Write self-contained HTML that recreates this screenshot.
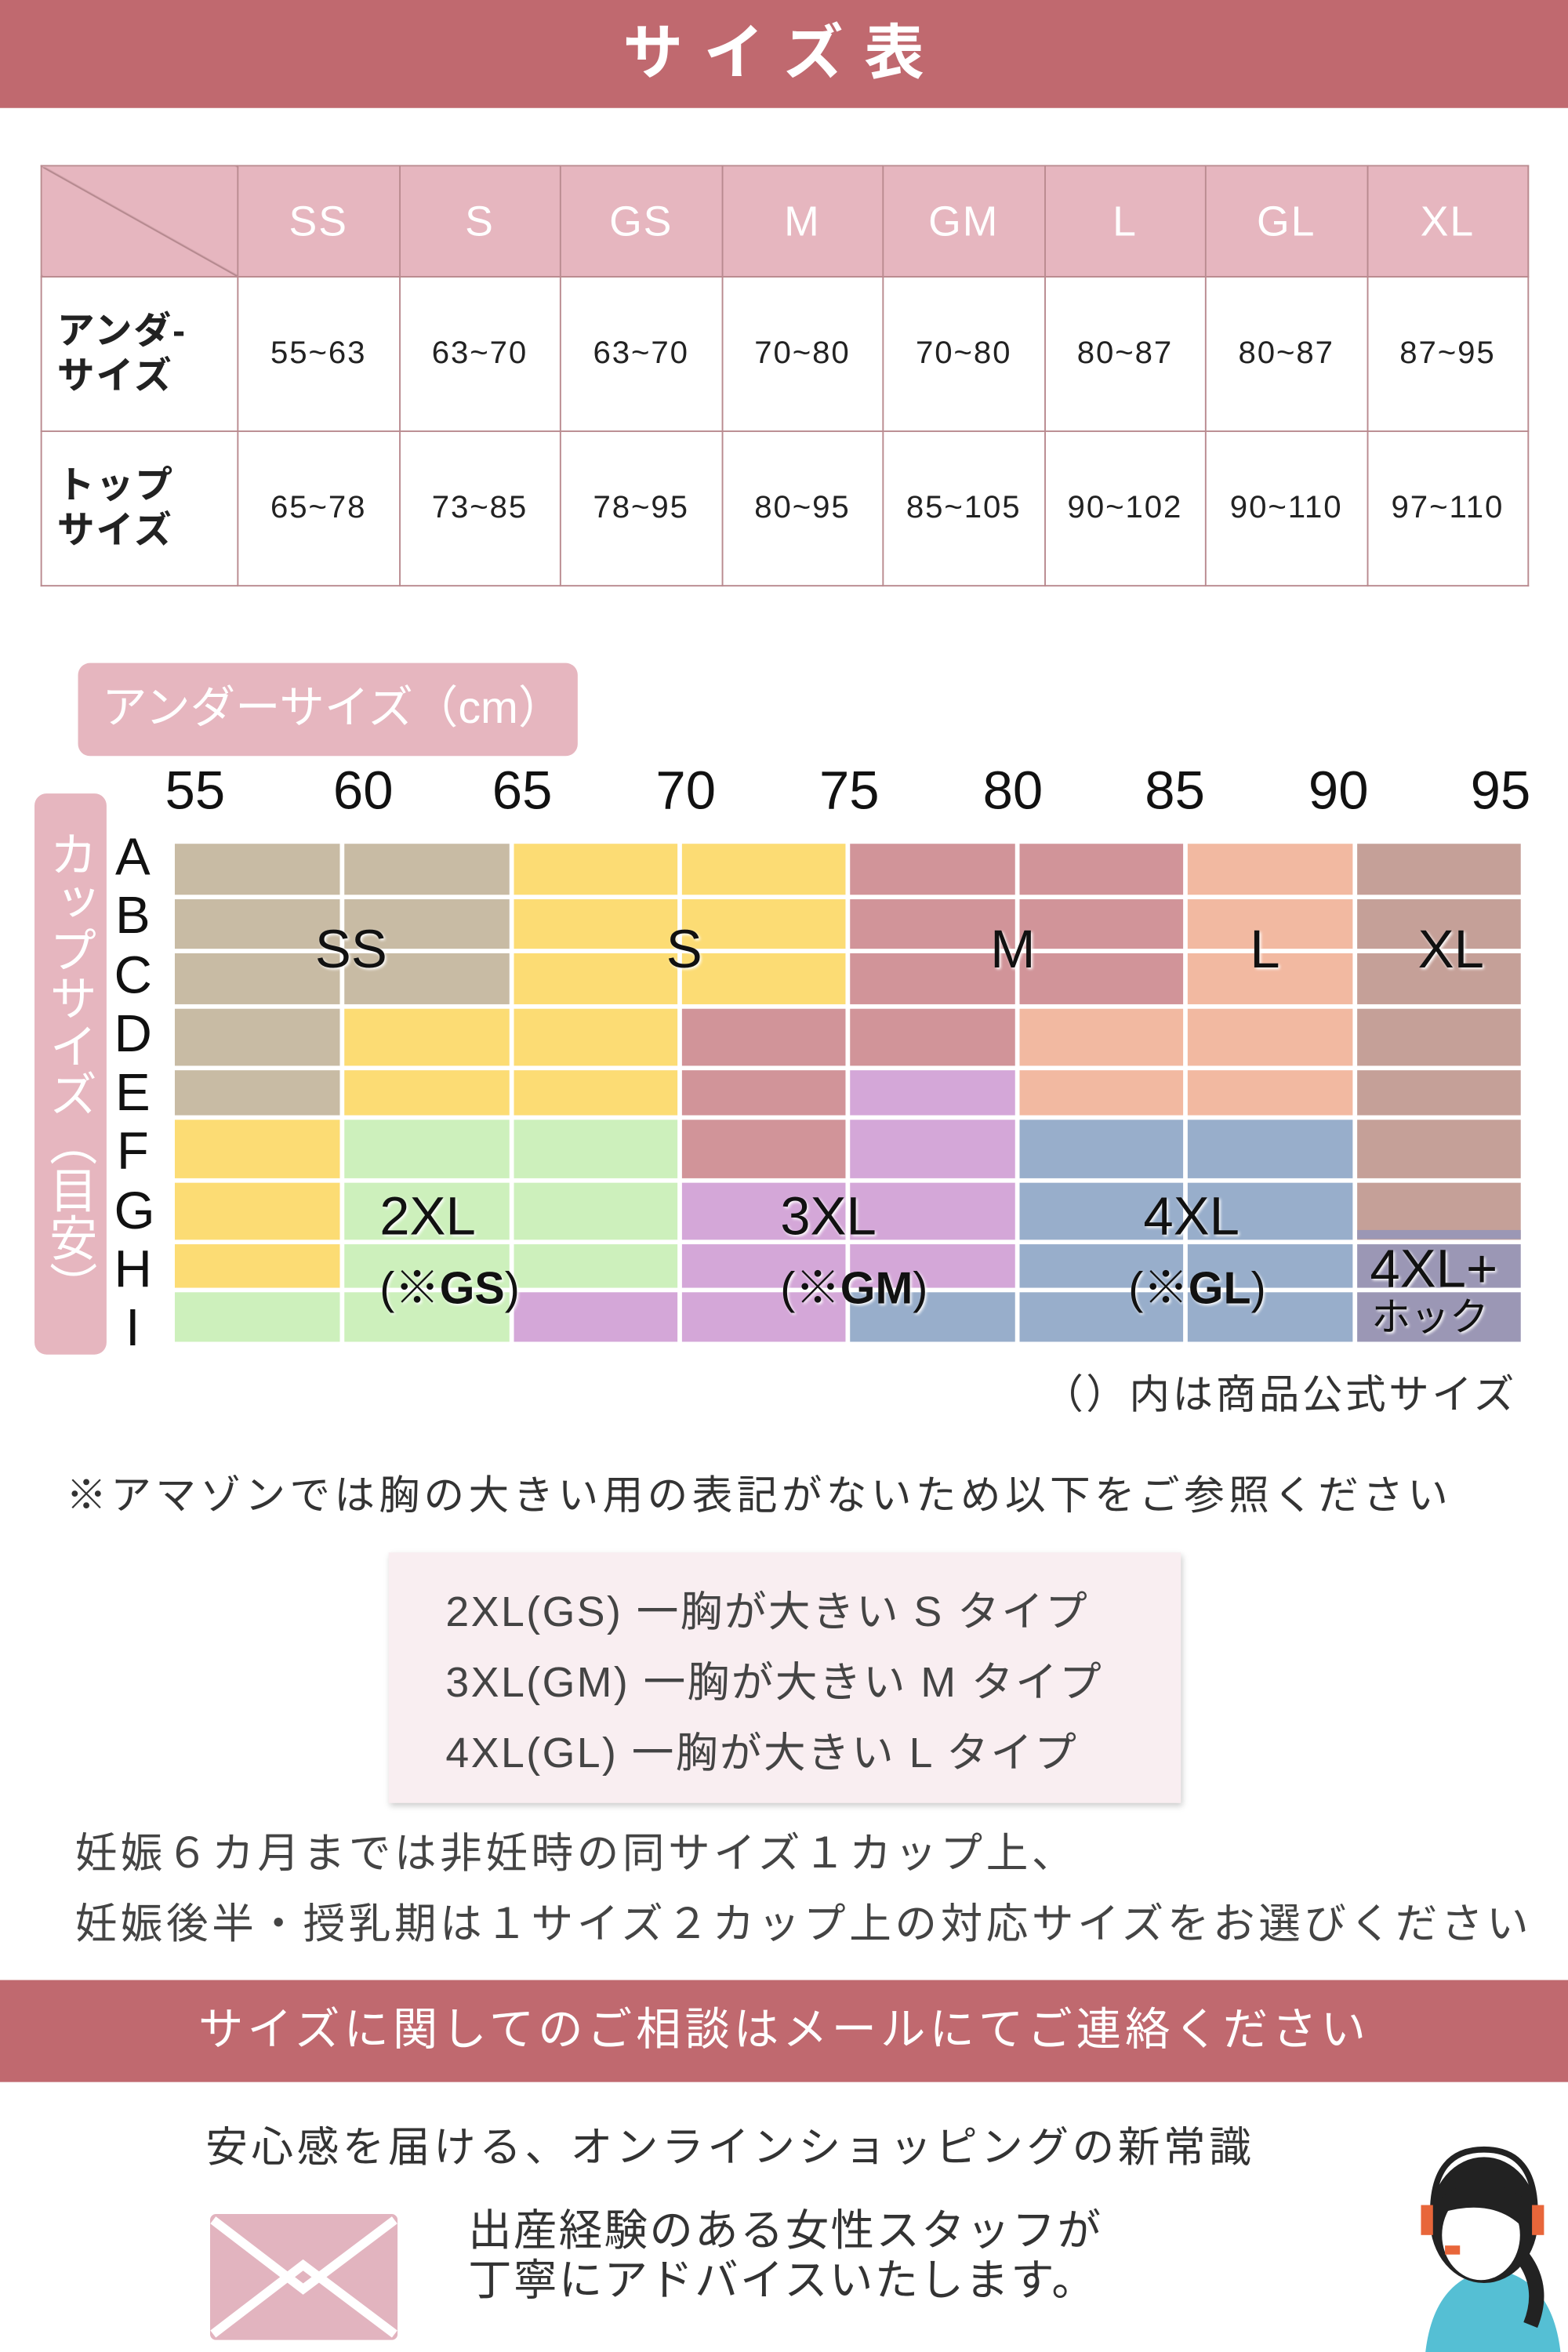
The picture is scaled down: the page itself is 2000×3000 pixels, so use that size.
<!DOCTYPE html>
<html><head><meta charset="utf-8"><style>
html,body{margin:0;padding:0;background:#fff;}
body{width:2000px;height:3000px;overflow:hidden;position:relative;}
#s{position:absolute;left:0;top:0;width:1045px;height:1568px;transform:scale(1.9139,1.9133);transform-origin:0 0;font-family:"Liberation Sans","Noto Sans CJK JP",sans-serif;color:#333;}
.a{position:absolute;}
.band{background:#c0696f;color:#fff;left:0;width:1045px;}
table{border-collapse:collapse;position:absolute;left:27px;top:110px;width:992px;table-layout:fixed;}
td{border:1.5px solid #b98a8f;text-align:center;font-size:21px;color:#222;letter-spacing:1px;}
tr.h td{background:#e6b6bf;color:#fff;font-size:28px;height:71px;}
tr.r td{height:100px;}
td.l{text-align:left;padding-left:10px;font-size:25px;line-height:30px;font-weight:bold;color:#222;}
.lab{position:absolute;font-size:36px;color:#111;text-shadow:1px 1px 2px #fff;}
</style></head><body><div id="s">
<div class="a band" style="top:0;height:72px;font-size:40px;font-weight:bold;text-align:center;line-height:72px;letter-spacing:14px;">サイズ表</div>
<table>
<colgroup><col style="width:131px"><col><col><col><col><col><col><col><col></colgroup>
<tr class="h"><td style="background:linear-gradient(to top right,#e6b6bf 49.5%,#a87d82 50%,#e6b6bf 51%);"></td><td>SS</td><td>S</td><td>GS</td><td>M</td><td>GM</td><td>L</td><td>GL</td><td>XL</td></tr>
<tr class="r"><td class="l">アンダ-<br>サイズ</td><td>55~63</td><td>63~70</td><td>63~70</td><td>70~80</td><td>70~80</td><td>80~87</td><td>80~87</td><td>87~95</td></tr>
<tr class="r"><td class="l">トップ<br>サイズ</td><td>65~78</td><td>73~85</td><td>78~95</td><td>80~95</td><td>85~105</td><td>90~102</td><td>90~110</td><td>97~110</td></tr>
</table>
<div class="a" style="left:52px;top:442px;width:333px;height:62px;background:#e6b6bf;border-radius:8px;color:#fff;font-size:30px;line-height:62px;padding-left:16px;box-sizing:border-box;">アンダーサイズ（cm）</div>
<div class="a" style="left:23px;top:529px;width:48px;height:374px;background:#e6b6bf;border-radius:8px;color:#fff;font-size:32px;writing-mode:vertical-rl;line-height:48px;padding-top:24px;box-sizing:border-box;">カップサイズ（目安）</div>
<div class="a" style="top:506px;left:0;width:1045px;height:45px;font-size:36px;color:#111;">
<span class="a" style="left:110px">55</span><span class="a" style="left:222px">60</span><span class="a" style="left:328px">65</span><span class="a" style="left:437px">70</span><span class="a" style="left:546px">75</span><span class="a" style="left:655px">80</span><span class="a" style="left:763px">85</span><span class="a" style="left:872px">90</span><span class="a" style="left:980px">95</span></div>
<div class="a" style="left:76px;top:552px;font-size:35px;line-height:39.3px;color:#111;width:25px;text-align:center;">A<br>B<br>C<br>D<br>E<br>F<br>G<br>H<br>I</div>
<svg class="a" style="left:0;top:0" width="1045" height="1568">
<g id="g"></g>
</svg>
<div id="labs"></div>
<div class="a" style="left:695px;top:908px;font-size:27px;letter-spacing:1.8px;">（）内は商品公式サイズ</div>
<div class="a" style="left:44px;top:975px;font-size:27px;letter-spacing:2.8px;">※アマゾンでは胸の大きい用の表記がないため以下をご参照ください</div>
<div class="a" style="left:259px;top:1035px;width:528px;height:167px;background:#f9eef1;box-shadow:1px 2px 4px #ccc;font-size:28px;line-height:47px;padding:16px 0 0 38px;box-sizing:border-box;color:#444;letter-spacing:1.3px;">2XL(GS) 一胸が大きい S タイプ<br>3XL(GM) 一胸が大きい M タイプ<br>4XL(GL) 一胸が大きい L タイプ</div>
<div class="a" style="left:50px;top:1212px;font-size:28px;line-height:47px;color:#444;letter-spacing:2.4px;">妊娠６カ月までは非妊時の同サイズ１カップ上、<br>妊娠後半・授乳期は１サイズ２カップ上の対応サイズをお選びください</div>
<div class="a band" style="top:1320px;height:68px;font-size:30px;text-align:center;line-height:68px;letter-spacing:2.6px;">サイズに関してのご相談はメールにてご連絡ください</div>
<div class="a" style="left:137px;top:1410px;font-size:28px;color:#333;letter-spacing:2.4px;">安心感を届ける、オンラインショッピングの新常識</div>
<div class="a" style="left:312px;top:1472px;font-size:29px;line-height:33px;color:#333;letter-spacing:1.2px;">出産経験のある女性スタッフが<br>丁寧にアドバイスいたします。</div>
<svg class="a" style="left:140px;top:1476px" width="125" height="84"><rect width="125" height="84" rx="4" fill="#e2b4bf"/><polyline points="2,4 62,50 123,4" fill="none" stroke="#fff" stroke-width="6"/><polyline points="2,80 62,34 123,80" fill="none" stroke="#fff" stroke-width="6"/></svg>
<svg class="a" style="left:925px;top:1425px" width="120" height="143"><path d="M25,143 Q30,100 60,90 L80,90 Q110,100 115,143Z" fill="#55bfd4"/><ellipse cx="64" cy="55" rx="36" ry="42" fill="#222"/><ellipse cx="62" cy="65" rx="26" ry="30" fill="#fff"/><path d="M36,40 Q60,20 90,40 L90,60 Q70,40 36,50Z" fill="#222"/><path d="M30,50 Q30,8 64,8 Q98,8 98,50" fill="none" stroke="#222" stroke-width="4"/><rect x="22" y="45" width="8" height="20" fill="#e8663a"/><rect x="96" y="45" width="8" height="20" fill="#e8663a"/><rect x="38" y="72" width="10" height="6" fill="#e8663a"/><path d="M90,80 Q105,100 95,125" stroke="#222" stroke-width="10" fill="none"/></svg>
</div>
<script>
var C={a:'#c8bba4',y:'#fcdc74',m:'#d19499',l:'#f2b9a1',x:'#c5a098',g:'#cdf0bc',p:'#d4a7d8',b:'#98aecb',q:'#9b97b5'};
var rows=["aayymmlx","aayymmlx","aayymmlx","ayymmllx","ayympllx","yggmpbbx","yggppbbx","yggppbbq","ggppbbbq"];
var ry=[561,598,634,671,712,745,787,828,860,896];
var cx=[115,228,341,453,565,678,790,903,1015];
var s='';
for(var r=0;r<9;r++)for(var c=0;c<8;c++){s+='<rect x="'+(cx[c]+1.5)+'" y="'+(ry[r]+1.5)+'" width="'+(cx[c+1]-cx[c]-3)+'" height="'+(ry[r+1]-ry[r]-3)+'" fill="'+C[rows[r][c]]+'"/>';}
s+='<rect x="904.5" y="820" width="109" height="6" fill="'+C.q+'"/>';
document.getElementById('g').innerHTML=s;
var L=[[210,612,'SS'],[444,612,'S'],[660,612,'M'],[833,612,'L'],[945,612,'XL'],[253,790,'2XL'],[253,834,'(※<b>GS</b>)',30],[520,790,'3XL'],[520,834,'(※<b>GM</b>)',30],[762,790,'4XL'],[752,834,'(※<b>GL</b>)',30],[913,825,'4XL+']];
var h='';L.forEach(function(e){h+='<div class="lab" style="left:'+e[0]+'px;top:'+e[1]+'px;'+(e[3]?'font-size:'+e[3]+'px':'')+'">'+e[2]+'</div>';});
h+='<div class="lab" style="left:914px;top:858px;font-size:26px">ホック</div>';
document.getElementById('labs').innerHTML=h;
</script>
</body></html>
